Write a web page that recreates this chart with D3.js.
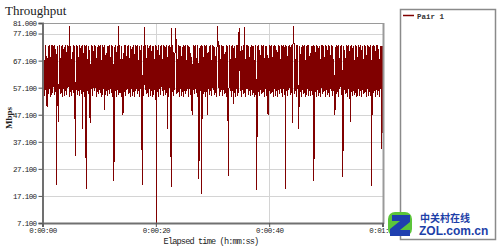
<!DOCTYPE html>
<html>
<head>
<meta charset="utf-8">
<script src="https://cdn.jsdelivr.net/npm/d3@7"></script>
<style>
	body { margin: 0; background: white; }
	text { font-family: "Liberation Mono", "DejaVu Sans Mono", monospace; }
</style>
</head>
<body>
<div id="chart"></div>
<script>

// Throughput samples for "Pair 1", one every 0.1 s (Mbps).
let sampleInterval = 0.1;
let pair1 = [
	72.6, 55.2, 72.9, 54.1, 67.5, 56.3, 72.8, 53.8, 50.0, 55.7, 72.5, 54.6, 73.0, 56.8, 68.4, 53.5, 72.7, 55.0, 72.9, 57.2,
	72.4, 54.3, 72.8, 55.6, 69.7, 21.2, 72.6, 53.9, 44.4, 56.1, 72.9, 54.8, 67.9, 55.3, 72.5, 53.7, 72.8, 56.6, 72.3, 54.2,
	72.7, 55.9, 70.2, 54.5, 72.9, 56.9, 72.6, 53.6, 80.0, 55.4, 72.4, 54.0, 67.6, 56.4, 72.8, 55.1, 72.5, 53.8, 31.8, 56.7,
	72.9, 54.4, 72.6, 55.8, 68.6, 53.9, 72.8, 56.2, 72.4, 54.7, 72.9, 42.0, 69.9, 55.5, 72.7, 53.6, 72.5, 19.7, 72.8, 56.0,
	67.7, 54.9, 72.6, 55.3, 44.0, 53.7, 72.9, 56.5, 72.4, 54.2, 70.5, 55.9, 72.8, 57.1, 72.6, 53.8, 68.1, 55.4, 72.9, 54.6,
	72.5, 56.3, 72.7, 55.0, 67.4, 53.5, 72.9, 56.8, 72.3, 49.0, 72.8, 54.4, 69.3, 55.7, 72.6, 53.9, 72.4, 56.1, 72.9, 54.8,
	68.3, 55.2, 72.7, 53.6, 72.5, 56.6, 22.7, 54.3, 72.8, 55.8, 70.1, 53.8, 72.6, 56.4, 80.0, 54.5, 72.9, 55.1, 67.6, 53.7,
	72.4, 56.9, 47.0, 54.0, 72.7, 55.6, 72.9, 53.9, 68.8, 56.2, 72.5, 54.7, 72.8, 55.3, 67.9, 53.6, 72.6, 56.7, 72.3, 54.1,
	72.9, 55.5, 69.6, 53.8, 72.7, 56.0, 72.4, 54.9, 72.8, 55.9, 67.5, 53.7, 72.6, 56.5, 72.9, 54.4, 21.2, 55.2, 72.5, 53.9,
	79.5, 56.3, 72.7, 54.6, 68.2, 55.0, 72.9, 53.5, 72.5, 56.8, 72.8, 54.2, 70.6, 55.7, 72.4, 53.8, 72.6, 56.1, 67.7, 54.8,
	72.9, 7.1, 72.6, 55.4, 72.8, 53.6, 69.1, 56.6, 72.4, 54.3, 72.7, 55.8, 67.8, 53.9, 72.9, 56.4, 72.5, 54.5, 72.8, 55.1,
	68.5, 41.8, 72.6, 53.7, 72.9, 56.9, 72.3, 20.3, 79.0, 55.6, 72.7, 53.9, 70.3, 56.2, 72.5, 79.0, 72.8, 54.7, 67.6, 55.3,
	72.9, 53.6, 72.6, 56.7, 72.4, 54.1, 68.9, 55.5, 72.8, 53.8, 72.5, 56.0, 72.7, 54.9, 67.4, 55.9, 72.9, 53.7, 72.6, 56.5,
	72.3, 54.4, 69.8, 55.2, 47.0, 53.9, 72.8, 56.3, 72.5, 54.6, 72.9, 55.0, 67.9, 53.5, 72.7, 56.8, 23.4, 54.2, 72.4, 55.7,
	72.8, 17.8, 72.6, 56.1, 68.4, 54.8, 72.9, 53.8, 72.5, 55.4, 72.7, 47.0, 70.0, 56.6, 72.4, 54.3, 72.8, 55.8, 67.5, 53.9,
	72.9, 56.4, 72.6, 54.5, 72.3, 55.1, 68.7, 53.6, 72.8, 80.0, 72.5, 56.9, 72.7, 54.0, 67.7, 55.6, 72.9, 53.9, 72.6, 56.2,
	72.4, 54.7, 69.4, 55.3, 72.8, 53.6, 72.5, 56.7, 24.6, 54.1, 72.9, 55.9, 67.6, 53.8, 72.6, 56.0, 72.7, 51.0, 72.4, 55.0,
	68.0, 53.5, 72.8, 56.8, 72.9, 54.2, 72.5, 79.0, 72.6, 55.7, 70.8, 53.8, 72.4, 56.1, 72.8, 54.8, 79.5, 55.2, 67.8, 53.6,
	72.7, 56.6, 72.9, 54.3, 72.5, 55.8, 68.6, 53.9, 72.8, 56.4, 72.4, 54.5, 72.6, 55.1, 67.4, 53.6, 72.9, 56.9, 19.3, 54.0,
	72.5, 55.6, 72.7, 53.9, 69.2, 56.2, 72.8, 54.7, 72.4, 55.3, 72.9, 53.6, 67.9, 56.7, 72.6, 54.1, 72.5, 55.9, 47.0, 53.8,
	72.8, 56.0, 72.6, 54.8, 72.9, 55.0, 68.3, 53.5, 72.4, 56.8, 72.7, 54.2, 72.5, 55.7, 70.4, 53.8, 72.9, 56.1, 72.6, 54.6,
	67.6, 55.2, 72.8, 53.6, 72.4, 56.5, 72.7, 54.3, 72.9, 19.7, 72.5, 55.8, 68.7, 53.9, 72.6, 56.3, 72.8, 54.4, 72.3, 55.1,
	72.9, 44.0, 72.6, 80.0, 72.5, 54.9, 67.8, 55.9, 72.7, 53.7, 72.8, 56.6, 41.8, 54.0, 72.4, 55.5, 69.5, 53.8, 72.9, 56.2,
	72.6, 54.7, 72.8, 55.3, 67.5, 53.6, 72.5, 56.7, 72.7, 54.2, 72.9, 55.8, 68.9, 53.9, 72.4, 56.0, 72.6, 54.5, 72.8, 22.7,
	72.5, 55.6, 70.2, 53.7, 72.9, 56.4, 72.6, 54.1, 72.4, 55.0, 67.7, 53.5, 72.8, 56.9, 72.7, 54.6, 72.5, 55.7, 68.4, 53.8,
	72.9, 56.3, 72.6, 54.4, 72.8, 55.2, 72.4, 53.6, 69.3, 56.8, 72.7, 54.0, 72.5, 55.9, 67.6, 53.9, 47.0, 56.1, 72.9, 54.8,
	72.6, 55.4, 72.8, 53.7, 68.1, 56.5, 72.4, 54.3, 72.7, 55.8, 24.0, 53.8, 72.5, 56.2, 67.9, 54.7, 72.9, 55.1, 72.6, 53.6,
	72.8, 56.6, 70.7, 44.4, 72.4, 55.5, 72.7, 53.9, 72.5, 56.0, 67.4, 54.5, 72.9, 55.3, 72.6, 53.7, 68.6, 56.7, 72.8, 54.2,
	72.3, 55.7, 72.9, 53.8, 72.5, 56.4, 67.8, 54.9, 72.7, 55.0, 72.6, 53.5, 69.0, 56.8, 72.8, 54.1, 72.4, 55.6, 72.9, 53.9,
	67.5, 20.9, 72.6, 54.6, 72.8, 55.2, 72.5, 53.6, 70.5, 56.3, 72.7, 54.4, 72.9, 55.8, 67.7, 53.8, 72.4, 56.5, 72.6, 34.3,
	72.4
];

// Axis ticks.
let yTicks = [7.1, 17.1, 27.1, 37.1, 47.1, 57.1, 67.1, 77.1, 81];
let xTicks = [0, 20, 40, 60];
let xTickLabels = ["0:00:00", "0:00:20", "0:00:40", "0:01:00"];
let seriesNames = ["Pair 1"];


let width = 500, height = 250;
let plot = {left: 42.5, right: 383, top: 23, bottom: 223};
let lineColor = "#800000";

let svg = d3.select("#chart")
  .append("svg")
	.attr("width", width)
	.attr("height", height)
	.style("display", "block");

let x = d3.scaleLinear().domain([0, 60]).range([plot.left, plot.right - 0.5]);
let y = d3.scaleLinear().domain([7.1, 81]).range([plot.bottom, plot.top]);


// Title
svg.append("text")
	.attr("x", 5)
	.attr("y", 15)
	.style("font-family", "'Liberation Serif', serif")
	.style("font-size", "13px")
	.attr("fill", "#222")
	.text("Throughput");


// Grid lines.
let grid = svg.append("g").attr("class", "grid");
grid.selectAll("line.h")
  .data(yTicks)
  .enter()
  .append("line")
	.attr("x1", plot.left)
	.attr("x2", plot.right)
	.attr("y1", d => Math.round(y(d)) + 0.5)
	.attr("y2", d => Math.round(y(d)) + 0.5)
	.attr("stroke", "#d4d4d4");

grid.selectAll("line.v")
  .data(xTicks.slice(1, -1))
  .enter()
  .append("line")
	.attr("x1", d => Math.round(x(d)) + 0.5)
	.attr("x2", d => Math.round(x(d)) + 0.5)
	.attr("y1", plot.top)
	.attr("y2", plot.bottom)
	.attr("stroke", "#d4d4d4");


// Data line. Crisp edges so the dense up/down swings close up into a band.
let line = d3.line()
  .x((d, i) => x(i * sampleInterval))
  .y(d => y(d));

svg.append("g")
  .attr("class", "data")
  .append("path")
	.datum(pair1)
	.attr("fill", "none")
	.attr("stroke", lineColor)
	.attr("stroke-width", 1)
	.attr("shape-rendering", "crispEdges")
	.attr("d", line);


// Frame: light top/right, heavier left/bottom axes.
svg.append("line")
	.attr("x1", plot.left).attr("x2", plot.right)
	.attr("y1", plot.top + 0.5).attr("y2", plot.top + 0.5)
	.attr("stroke", "#9a9a9a");
svg.append("line")
	.attr("x1", plot.right + 0.5).attr("x2", plot.right + 0.5)
	.attr("y1", plot.top).attr("y2", plot.bottom + 1)
	.attr("stroke", "#9a9a9a")
	.attr("stroke-width", 2);


// Axes
let yAxis = d3.axisLeft(y)
  .tickValues(yTicks)
  .tickSize(4)
  .tickFormat(d3.format(".3f"));

let xAxis = d3.axisBottom(x)
  .tickValues(xTicks)
  .tickSize(4)
  .tickFormat((d, i) => xTickLabels[i]);

let gy = svg.append("g")
  .attr("transform", `translate(${plot.left},0)`)
  .call(yAxis);

let gx = svg.append("g")
  .attr("transform", `translate(0,${plot.bottom})`)
  .call(xAxis);

[gx, gy].forEach(g => {
	g.select(".domain").attr("stroke", "#707070").attr("stroke-width", 2);
	g.selectAll(".tick line").attr("stroke", "#555");
	g.selectAll(".tick text")
	  .style("font-family", "'Liberation Mono', monospace")
	  .style("font-size", "7.5px")
	  .style("letter-spacing", "-0.6px")
	  .attr("fill", "#222");
});
gy.selectAll(".tick text").attr("x", -6);
gx.selectAll(".tick text").attr("y", 5);


// Axis titles
svg.append("text")
	.attr("transform", "translate(12,118) rotate(-90)")
	.attr("text-anchor", "middle")
	.style("font-family", "'Liberation Serif', serif")
	.style("font-size", "9px")
	.style("font-weight", "bold")
	.attr("fill", "#222")
	.text("Mbps");

svg.append("text")
	.attr("x", 211)
	.attr("y", 244)
	.attr("text-anchor", "middle")
	.style("font-size", "8.6px")
	.style("letter-spacing", "-0.85px")
	.attr("fill", "#222")
	.text("Elapsed time (h:mm:ss)");


// Legend box
let legend = svg.append("g").attr("class", "legend");
legend.append("rect")
	.attr("x", 400.5)
	.attr("y", 9.5)
	.attr("width", 95)
	.attr("height", 230)
	.attr("fill", "white")
	.attr("stroke", "#8a8a8a")
	.attr("stroke-width", 1.5);

let items = legend.selectAll("g.item")
  .data(seriesNames)
  .enter()
  .append("g")
	.attr("transform", (d, i) => `translate(403,${15.5 + i * 10})`);
items.append("line")
	.attr("x1", 0).attr("x2", 11)
	.attr("stroke", lineColor)
	.attr("stroke-width", 1.5);
items.append("text")
	.attr("x", 14)
	.attr("y", 3)
	.style("font-size", "7.5px")
	.style("font-weight", "bold")
	.attr("fill", "#333")
	.text(d => d);


// Watermark in the lower right corner.
let wm = svg.append("g").attr("class", "watermark");
wm.append("rect")
	.attr("x", 388).attr("y", 212)
	.attr("width", 24).attr("height", 24)
	.attr("rx", 7)
	.attr("fill", "#5cc43a");
wm.append("path")
	.attr("d", "M392,215 L410,215 L410,222 L400,230 L410,230 L410,236 L390,236 L390,229 L400,221 L392,221 Z")
	.attr("fill", "#1f3fb0");
wm.append("text")
	.attr("x", 420).attr("y", 222)
	.style("font-family", "'Noto Sans CJK SC', sans-serif")
	.style("font-size", "10px")
	.style("font-weight", "bold")
	.attr("fill", "#1d3fa8")
	.text("中关村在线");
wm.append("text")
	.attr("x", 419).attr("y", 235)
	.style("font-family", "'Liberation Sans', Arial, sans-serif")
	.style("font-size", "12px")
	.style("font-weight", "bold")
	.attr("fill", "#1d3fa8")
	.text("ZOL.com.cn");

</script>
</body>
</html>
